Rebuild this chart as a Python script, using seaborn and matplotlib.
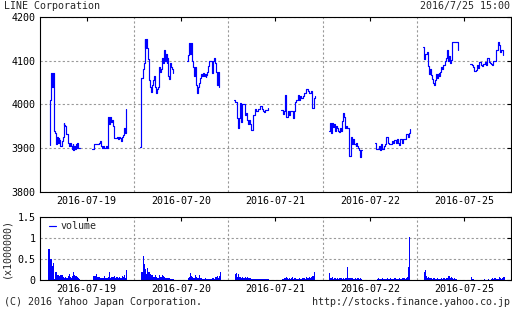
import numpy as np
import pandas as pd
import matplotlib
matplotlib.use("Agg")
import matplotlib.pyplot as plt
from matplotlib.lines import Line2D
import seaborn as sns

# ---------------- data ----------------
title = "LINE Corporation"
stamp = "2016/7/25 15:00"
day_labels = ["2016-07-19", "2016-07-20", "2016-07-21", "2016-07-22", "2016-07-25"]
price_ticks = [3800, 3900, 4000, 4100, 4200]
vol_ticks = [0, 0.5, 1, 1.5]
vol_tick_labels = ["0", "0.5", "1", "1.5"]

# session (day index, start minute, end minute) -- minutes since 8:30 of that day
sessions = [(0, 45, 180), (0, 235, 387),
            (1, 27, 174), (1, 238, 380),
            (2, 27, 175), (2, 237, 386),
            (3, 30, 174), (3, 234, 390),
            (4, 28, 181), (4, 238, 384)]

d1_am = [3908, 4010, 4072, 4040, 4072, 3940, 3935, 3935, 3910, 3925, 3912, 3922, 3918, 3905, 3905,
         3915, 3925, 3957, 3952, 3950, 3932, 3932, 3916, 3912, 3905, 3912, 3905, 3898, 3910, 3895,
         3905, 3898, 3910, 3900, 3912, 3900, 3900, 3900]
d1_pm = [3898, 3898, 3910, 3910, 3910, 3910, 3912, 3915, 3905, 3900, 3905, 3900, 3905, 3900, 3970,
         3955, 3970, 3960, 3965, 3950, 3922, 3922, 3925, 3920, 3925, 3922, 3915, 3925, 3930, 3945,
         3935, 3990]
d2_am = [3902, 4060, 4060, 4082, 4095, 4150, 4130, 4150, 4130, 4103, 4055, 4040, 4028, 4045, 4055,
         4065, 4040, 4035, 4025, 4035, 4040, 4086, 4075, 4080, 4105, 4095, 4125, 4100, 4115, 4095,
         4105, 4065, 4057, 4095, 4085, 4080, 4072]
d2_pm = [4100, 4113, 4141, 4115, 4140, 4100, 4085, 4065, 4085, 4075, 4045, 4025, 4040, 4050, 4060,
         4070, 4065, 4072, 4065, 4070, 4062, 4068, 4075, 4088, 4100, 4100, 4100, 4072, 4100, 4105,
         4095, 4090, 4075, 4045, 4075, 4040]
d3_am = [4010, 4005, 3968, 3945, 3968, 4002, 3960, 4000, 4000, 3975, 3980, 3965, 3955, 3965, 3955,
         3941, 3975, 3975, 3990, 3985, 3985, 3990, 3996, 3996, 3990, 3985, 3983, 3988, 3988, 3992]
d3_pm = [3987, 3978, 3985, 4021, 3970, 3985, 3975, 3985, 3985, 3968, 3985, 4006, 4010, 4021, 4010,
         4020, 4015, 4020, 4027, 4027, 4036, 4030, 4025, 4025, 4030, 3992, 4015, 4020]
d4_am = [3940, 3957, 3934, 3957, 3948, 3955, 3955, 3940, 3950, 3945, 3938, 3936, 3945, 3940, 3950,
         3961, 3980, 3970, 3945, 3950, 3945, 3945, 3881, 3881, 3881, 3925, 3910, 3920, 3910, 3910,
         3905, 3912, 3905, 3900, 3895, 3880, 3895, 3895]
d4_pm = [3911, 3898, 3898, 3905, 3895, 3910, 3898, 3898, 3905, 3910, 3925, 3912, 3910, 3910, 3910,
         3917, 3912, 3918, 3912, 3920, 3912, 3908, 3920, 3920, 3912, 3920, 3920, 3932, 3932, 3925,
         3935, 3944]
d5_am = [4131, 4104, 4116, 4116, 4120, 4087, 4070, 4080, 4068, 4058, 4049, 4045, 4055, 4070, 4060,
         4070, 4071, 4065, 4075, 4085, 4080, 4090, 4090, 4099, 4105, 4125, 4100, 4110, 4095, 4102,
         4142, 4142, 4142, 4142, 4142, 4142, 4125]
d5_pm = [4093, 4090, 4085, 4076, 4076, 4078, 4090, 4083, 4098, 4090, 4087, 4093, 4093, 4098, 4090,
         4105, 4098, 4095, 4092, 4090, 4100, 4100, 4100, 4124, 4142, 4135, 4120, 4125, 4125, 4112]
prices = [d1_am, d1_pm, d2_am, d2_pm, d3_am, d3_pm, d4_am, d4_pm, d5_am, d5_pm]

# volume (x1,000,000), 5-minute bars, 30 per session
v1_am = [0, 0, 0.73, 0.5, 0.5, 0.33, 0.4, 0.03, 0.2, 0.2, 0.12, 0.1, 0.13, 0.12, 0.12, 0.07, 0.05,
         0.07, 0.05, 0.1, 0.15, 0.07, 0.05, 0.1, 0.2, 0.12, 0.1, 0.06, 0.04, 0.02]
v1_pm = [0.1, 0.1, 0.14, 0.08, 0.07, 0.06, 0.05, 0.04, 0.04, 0.1, 0.05, 0.05, 0.04, 0.08, 0.2, 0.05,
         0.08, 0.07, 0.1, 0.05, 0.08, 0.07, 0.05, 0.08, 0.04, 0.1, 0.07, 0.12, 0.05, 0.23]
v2_am = [0.2, 0.2, 0.58, 0.37, 0.27, 0.15, 0.28, 0.19, 0.15, 0.11, 0.13, 0.08, 0.07, 0.11, 0.07, 0.05,
         0.11, 0.07, 0.08, 0.13, 0.1, 0.07, 0.05, 0.04, 0.05, 0.04, 0.03, 0.03, 0.02, 0.02]
v2_pm = [0.05, 0.08, 0.17, 0.1, 0.08, 0.05, 0.12, 0.08, 0.05, 0.05, 0.12, 0.05, 0.04, 0.03, 0.03, 0.04,
         0.03, 0.03, 0.03, 0.03, 0.03, 0.03, 0.05, 0.03, 0.08, 0.06, 0.1, 0.05, 0.1, 0.18]
v3_am = [0.15, 0.17, 0.07, 0.15, 0.08, 0.05, 0.07, 0.05, 0.05, 0.07, 0.04, 0.08, 0.05, 0.04, 0.03, 0.03,
         0.03, 0.03, 0.03, 0.03, 0.03, 0.03, 0.03, 0.03, 0.03, 0.03, 0.03, 0.02, 0.02, 0.02]
v3_pm = [0.03, 0.03, 0.05, 0.08, 0.05, 0.03, 0.05, 0.03, 0.04, 0.07, 0.03, 0.04, 0.03, 0.03, 0.03, 0.04,
         0.03, 0.03, 0.05, 0.05, 0.03, 0.08, 0.05, 0.04, 0.06, 0.05, 0.08, 0.1, 0.2, 0.0]
v4_am = [0.17, 0.05, 0.07, 0.03, 0.05, 0.04, 0.03, 0.05, 0.03, 0.05, 0.04, 0.03, 0.05, 0.03, 0.04, 0.05,
         0.3, 0.05, 0.04, 0.05, 0.05, 0.03, 0.03, 0.05, 0.03, 0.04, 0.03, 0.05, 0.02, 0.0]
v4_pm = [0.03, 0.04, 0.02, 0.03, 0.03, 0.04, 0.02, 0.03, 0.03, 0.04, 0.02, 0.03, 0.04, 0.03, 0.02, 0.03,
         0.04, 0.03, 0.02, 0.03, 0.04, 0.03, 0.03, 0.04, 0.05, 0.03, 0.05, 0.07, 0.3, 1.02]
v5_am = [0.2, 0.23, 0.1, 0.05, 0.07, 0.04, 0.05, 0.03, 0.04, 0.05, 0.03, 0.03, 0.04, 0.03, 0.03, 0.05,
         0.03, 0.05, 0.04, 0.03, 0.05, 0.04, 0.1, 0.05, 0.07, 0.04, 0.03, 0.05, 0.03, 0.02]
v5_pm = [0.07, 0.03, 0.02, 0.01, 0.01, 0.01, 0.01, 0.01, 0.01, 0.01, 0.01, 0.01, 0.02, 0.01, 0.01, 0.02,
         0.01, 0.01, 0.02, 0.05, 0.02, 0.04, 0.03, 0.02, 0.03, 0.07, 0.05, 0.03, 0.05, 0.07]
volumes = [v1_am, v1_pm, v2_am, v2_pm, v3_am, v3_pm, v4_am, v4_pm, v5_am, v5_pm]
session_bar_start = [30, 240]   # first 5-min bar of morning / afternoon session (min since 8:30)

# ---------------- build frames ----------------
DAY = 420  # minutes shown per day (8:30 - 15:30)
rows = []
for k, ((d, s, e), vals) in enumerate(zip(sessions, prices)):
    ts = np.linspace(s, e, len(vals)) + d * DAY
    for t, v in zip(ts, vals):
        rows.append((t, v, k))
price_df = pd.DataFrame(rows, columns=["t", "price", "session"])

vrows = []
for k, vals in enumerate(volumes):
    d = k // 2
    start = session_bar_start[k % 2]
    for i, v in enumerate(vals):
        vrows.append((d * DAY + start + 5 * i + 2.5, v))
vol_df = pd.DataFrame(vrows, columns=["t", "vol"])

# ---------------- style ----------------
sns.set_style("white")
plt.rcParams["font.family"] = ["DejaVu Sans Mono"]
plt.rcParams["font.size"] = 7.2

W, H = 512, 310
fig = plt.figure(figsize=(W / 100, H / 100), dpi=100)
left, right = 39.5, 511.3
ax = fig.add_axes([left / W, (H - 191.7) / H, (right - left) / W, (191.7 - 17) / H])
ax2 = fig.add_axes([left / W, (H - 280) / H, (right - left) / W, (280 - 216.7) / H])

blue = "#0000ff"
grid_kw = dict(color="#999999", linestyle=(0, (2, 2)), linewidth=0.8)

sns.lineplot(data=price_df, x="t", y="price", units="session", estimator=None,
             drawstyle="steps-post", color=blue, linewidth=0.85, ax=ax, legend=False)

sns.histplot(data=vol_df, x="t", weights="vol", binwidth=5, binrange=(0, 5 * DAY),
             color=blue, alpha=1, linewidth=0, ax=ax2)

centers = [DAY * i + DAY / 2 for i in range(len(day_labels))]
bounds = [DAY * i for i in range(1, len(day_labels))]

for a in (ax, ax2):
    a.set_xlim(0, DAY * len(day_labels))
    a.set_xticks(centers)
    a.set_xticklabels(day_labels)
    a.set_xticks(bounds, minor=True)
    a.set_xlabel("")
    a.tick_params(which="major", direction="in", length=3, width=0.8, top=True, right=True,
                  labelsize=7.2, pad=3, colors="black")
    a.tick_params(which="minor", length=0)
    a.grid(False)
    a.grid(which="minor", axis="x", **grid_kw)
    a.grid(which="major", axis="y", **grid_kw)
    for sp in a.spines.values():
        sp.set_color("black")
        sp.set_linewidth(0.8)
    a.set_axisbelow(True)

ax.set_ylim(3800, 4200)
ax.set_yticks(price_ticks)
ax.set_ylabel("")

ax2.set_ylim(0, 1.5)
ax2.set_yticks(vol_ticks)
ax2.set_yticklabels(vol_tick_labels)
ax2.set_ylabel("(x1000000)", fontsize=7.2, labelpad=4)
ax2.legend(handles=[Line2D([], [], color=blue, linewidth=0.85)], labels=["volume"],
           loc="upper left", frameon=False, handlelength=0.7, handletextpad=0.4,
           fontsize=7.2, borderaxespad=0.2, bbox_to_anchor=(0.008, 1.02))

fig.text(4 / W, 1 - 6 / H, title, ha="left", va="center", fontsize=7.2)
fig.text(510 / W, 1 - 6 / H, stamp, ha="right", va="center", fontsize=7.2)
fig.text(4 / W, 1 - 302 / H, "(C) 2016 Yahoo Japan Corporation.", ha="left", va="center", fontsize=7.2)
fig.text(510 / W, 1 - 302 / H, "http://stocks.finance.yahoo.co.jp", ha="right", va="center", fontsize=7.2)

fig.savefig("out.png", dpi=100)
